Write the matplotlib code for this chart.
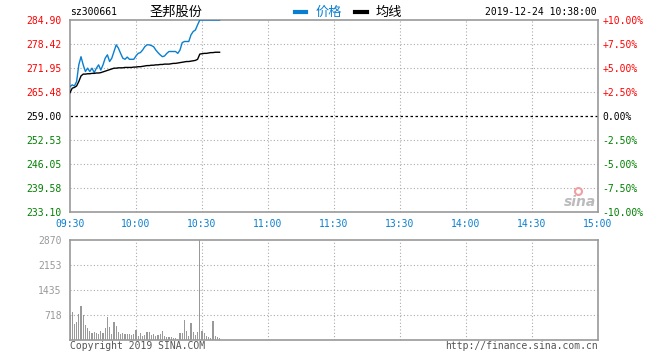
import matplotlib
matplotlib.use('Agg')
from matplotlib import pyplot as plt

# chart data (one point per trading minute from 09:30)
prev_close = 259.00
price = [266.9, 267.4, 267.1, 268.3, 272.8, 275.0, 272.8, 271.0, 271.9, 271.0,
         271.9, 270.7, 271.9, 272.8, 271.4, 272.8, 274.6, 275.5, 273.7, 274.6,
         276.4, 278.2, 277.3, 275.9, 274.6, 274.3, 274.9, 274.3, 274.3, 274.3,
         275.2, 275.9, 276.1, 276.8, 277.7, 278.2, 278.2, 278.0, 277.7, 276.8,
         276.1, 275.5, 275.0, 275.2, 275.9, 276.4, 276.4, 276.4, 276.4, 275.9,
         276.8, 278.8, 279.1, 279.1, 279.1, 280.9, 281.8, 282.2, 283.6, 284.9,
         284.9, 284.9, 284.9, 284.9, 284.9, 284.9, 284.9, 284.9, 284.9]
avg = [265.3, 266.5, 266.7, 267.1, 268.3, 269.8, 270.3, 270.3, 270.4, 270.4,
       270.5, 270.5, 270.6, 270.6, 270.7, 270.9, 271.1, 271.3, 271.5, 271.7,
       271.9, 271.9, 272.0, 272.0, 272.0, 272.1, 272.1, 272.1, 272.1, 272.2,
       272.2, 272.3, 272.3, 272.4, 272.5, 272.6, 272.6, 272.7, 272.7, 272.8,
       272.8, 272.9, 272.9, 273.0, 273.0, 273.0, 273.1, 273.2, 273.2, 273.3,
       273.4, 273.5, 273.6, 273.7, 273.7, 273.8, 273.9, 274.0, 274.3, 275.7,
       275.8, 275.9, 275.9, 276.0, 276.1, 276.1, 276.2, 276.2, 276.2]
volume = [722, 800, 462, 530, 751, 982, 722, 433, 337, 270,
          212, 241, 193, 173, 270, 212, 337, 655, 385, 173,
          530, 404, 241, 173, 193, 173, 173, 173, 135, 173,
          289, 116, 212, 116, 135, 221, 231, 144, 164, 116,
          144, 164, 260, 116, 96, 77, 96, 67, 58, 19,
          193, 212, 578, 270, 116, 481, 241, 144, 231, 2870,
          270, 193, 116, 77, 67, 558, 116, 77, 67]
price_ticks = [233.10, 239.58, 246.05, 252.53, 259.00, 265.48, 271.95, 278.42, 284.90]
pct_labels = ['-10.00%', '-7.50%', '-5.00%', '-2.50%', '0.00%',
              '+2.50%', '+5.00%', '+7.50%', '+10.00%']
time_labels = ['09:30', '10:00', '10:30', '11:00', '11:30', '13:30', '14:00', '14:30', '15:00']
vol_ticks = [718, 1435, 2153, 2870]

RED = '#ff0000'
GREEN = '#008000'
BLUE = '#0a7fd0'
GRAY = '#999999'
MONO = 'DejaVu Sans Mono'
CJK = ['Noto Sans CJK SC', 'DejaVu Sans']

W, H = 660, 360
fig = plt.figure(figsize=(6.6, 3.6), dpi=100)
fig.patch.set_facecolor('white')

def box(x0, y0, x1, y1):
    return [x0 / W, 1 - y1 / H, (x1 - x0) / W, (y1 - y0) / H]

ax = fig.add_axes(box(70, 20, 598, 212))
axv = fig.add_axes(box(70, 240, 598, 340))

minutes = list(range(len(price)))
xt = [30 * i for i in range(9)]

for a in (ax, axv):
    a.set_xlim(0, 240)
    for s in a.spines.values():
        s.set_color(GRAY)
        s.set_linewidth(1.2)
    a.set_xticks(xt)
    a.tick_params(length=0)
    for x in xt[1:-1]:
        a.axvline(x, color='#aaaaaa', lw=0.8, ls=(0, (1, 2)), zorder=0)

# price panel
ax.set_ylim(price_ticks[0], price_ticks[-1])
ax.set_yticks(price_ticks)
for y in price_ticks[1:-1]:
    if y == prev_close:
        ax.axhline(y, color='black', lw=0.9, ls=(0, (2, 2)), zorder=1)
    else:
        ax.axhline(y, color='#aaaaaa', lw=0.8, ls=(0, (1, 2)), zorder=0)
ax.plot(minutes, price, color=BLUE, lw=1.0, zorder=3)
ax.plot(minutes, avg, color='black', lw=1.0, zorder=3)

ax.set_yticklabels(['%.2f' % v for v in price_ticks], fontfamily=MONO, fontsize=7)
for lbl, v in zip(ax.get_yticklabels(), price_ticks):
    lbl.set_color(RED if v > prev_close else (GREEN if v < prev_close else 'black'))
ax.tick_params(axis='y', pad=6)

axr = ax.twinx()
axr.set_ylim(ax.get_ylim())
axr.set_yticks(price_ticks)
axr.set_yticklabels(pct_labels, fontfamily=MONO, fontsize=7)
for lbl, v in zip(axr.get_yticklabels(), price_ticks):
    lbl.set_color(RED if v > prev_close else (GREEN if v < prev_close else 'black'))
axr.tick_params(length=0, pad=3)
for s in axr.spines.values():
    s.set_visible(False)

ax.set_xticklabels(time_labels, fontfamily=MONO, fontsize=7, color=BLUE)
ax.tick_params(axis='x', pad=5)

# volume panel
axv.set_ylim(0, 2870)
axv.set_yticks(vol_ticks)
axv.set_yticklabels([str(v) for v in vol_ticks], fontfamily=MONO, fontsize=7, color=GRAY)
axv.tick_params(axis='y', pad=6)
axv.set_xticklabels([])
for y in vol_ticks[:-1]:
    axv.axhline(y, color='#aaaaaa', lw=0.8, ls=(0, (1, 2)), zorder=0)
axv.bar(minutes, volume, width=0.5, color=GRAY, linewidth=0, antialiased=False, zorder=2)

# header texts
fig.text(70 / W, 1 - 12 / H, 'sz300661', fontfamily=MONO, fontsize=7, va='center')
fig.text(176 / W, 1 - 12 / H, '圣邦股份', family=CJK, fontsize=9.5, ha='center', va='center')
fig.lines.append(plt.Line2D([295 / W, 306 / W], [1 - 12 / H] * 2, color=BLUE, lw=3,
                            transform=fig.transFigure))
fig.text(316 / W, 1 - 12 / H, '价格', family=CJK, fontsize=9.5, color=BLUE, va='center')
fig.lines.append(plt.Line2D([355 / W, 367 / W], [1 - 12 / H] * 2, color='black', lw=3,
                            transform=fig.transFigure))
fig.text(376 / W, 1 - 12 / H, '均线', family=CJK, fontsize=9.5, va='center')
fig.text(597 / W, 1 - 12 / H, '2019-12-24 10:38:00', fontfamily=MONO, fontsize=7,
         ha='right', va='center')

# watermark (eye icon + word)
fig.lines.append(plt.Line2D([578 / W], [1 - 191 / H], marker='o', markersize=5,
                            markerfacecolor='white', markeredgecolor='#f0a0a0',
                            markeredgewidth=1.5, transform=fig.transFigure))
fig.text(596 / W, 1 - 202 / H, 'sina', fontsize=10, fontweight='bold', style='italic',
         color='#bbbbbb', ha='right', va='center')

# footer
fig.text(70 / W, 1 - 346 / H, 'Copyright 2019 SINA.COM', fontfamily=MONO, fontsize=7,
         color='#555555', va='center')
fig.text(598 / W, 1 - 346 / H, 'http://finance.sina.com.cn', fontfamily=MONO, fontsize=7,
         color='#555555', ha='right', va='center')

fig.savefig('out.png', dpi=100)
